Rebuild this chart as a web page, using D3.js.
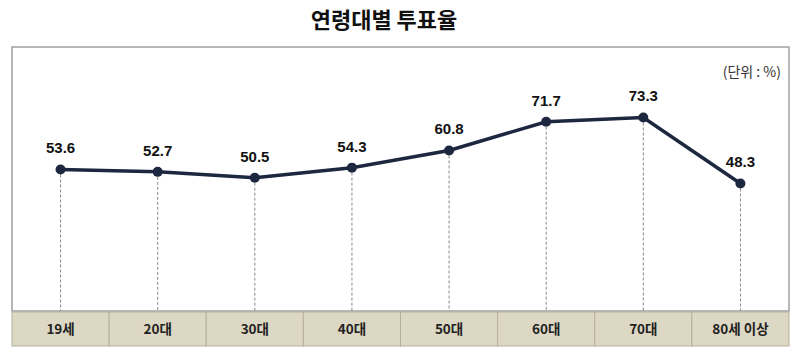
<!DOCTYPE html>
<html><head><meta charset="utf-8">
<script src="https://cdn.jsdelivr.net/npm/d3@7"></script>
<style>body{margin:0;background:#fff;} svg{display:block;}</style>
</head><body>
<svg id="chart" width="800" height="357"></svg>
<script>
const categories = ["19세","20대","30대","40대","50대","60대","70대","80세 이상"];
const values = [53.6, 52.7, 50.5, 54.3, 60.8, 71.7, 73.3, 48.3];
const title = "연령대별 투표율";
const unitLabel = "(단위 : %)";

(function(){
const svg = d3.select("#chart");
const L = 12, R = 789, T = 47, B = 311, BB = 346;
const x = d3.scaleBand().domain(categories).range([L, R]).padding(0);
const y = d3.scaleLinear().domain([0, 100]).range([B, T]);
const font = "'Liberation Sans', Arial, 'Noto Sans CJK KR', sans-serif";

svg.append("text").attr("x", 384).attr("y", 28).attr("text-anchor", "middle")
  .attr("font-family", "'Noto Sans CJK KR', sans-serif").attr("font-weight", "bold")
  .attr("font-size", 22).attr("fill", "#111").text(title);

svg.append("rect").attr("x", L).attr("y", T).attr("width", R - L).attr("height", B - T)
  .attr("fill", "#fff").attr("stroke", "#a0a0a0").attr("stroke-width", 1.5);

svg.append("text").attr("x", 781).attr("y", 77).attr("text-anchor", "end")
  .attr("font-family", "'Noto Sans CJK KR', sans-serif").attr("font-size", 14).attr("fill", "#333").text(unitLabel);

const g = svg.append("g");
g.selectAll("rect.band").data(categories).join("rect").attr("class","band")
  .attr("x", d => x(d)).attr("y", B + 1).attr("width", x.bandwidth()).attr("height", BB - B - 1)
  .attr("fill", "#ddd8c3").attr("stroke", "#b5b09c").attr("stroke-width", 1);
g.selectAll("text.cat").data(categories).join("text").attr("class","cat")
  .attr("x", d => x(d) + x.bandwidth()/2).attr("y", 334).attr("text-anchor","middle")
  .attr("font-family", "'Noto Sans CJK KR', sans-serif").attr("font-weight","bold").attr("font-size", 13.5)
  .attr("fill", "#222").text(d => d);

const cx = d => x(d) + x.bandwidth()/2;
const data = categories.map((c,i)=>({c, v: values[i]}));

svg.selectAll("line.drop").data(data).join("line").attr("class","drop")
  .attr("x1", d => cx(d.c)).attr("x2", d => cx(d.c)).attr("y1", d => y(d.v)).attr("y2", B)
  .attr("stroke", "#888").attr("stroke-width", 1).attr("stroke-dasharray", "3,2");

svg.append("path").datum(data)
  .attr("d", d3.line().x(d => cx(d.c)).y(d => y(d.v)))
  .attr("fill","none").attr("stroke","#1e2740").attr("stroke-width",3.5);

svg.selectAll("circle.pt").data(data).join("circle").attr("class","pt")
  .attr("cx", d => cx(d.c)).attr("cy", d => y(d.v)).attr("r", 5).attr("fill","#1e2740");

svg.selectAll("text.val").data(data).join("text").attr("class","val")
  .attr("x", d => cx(d.c)).attr("y", d => y(d.v) - 16).attr("text-anchor","middle")
  .attr("font-family", font).attr("font-weight","bold").attr("font-size", 15).attr("fill","#111")
  .text(d => d.v.toFixed(1));
})();
</script>
</body></html>
